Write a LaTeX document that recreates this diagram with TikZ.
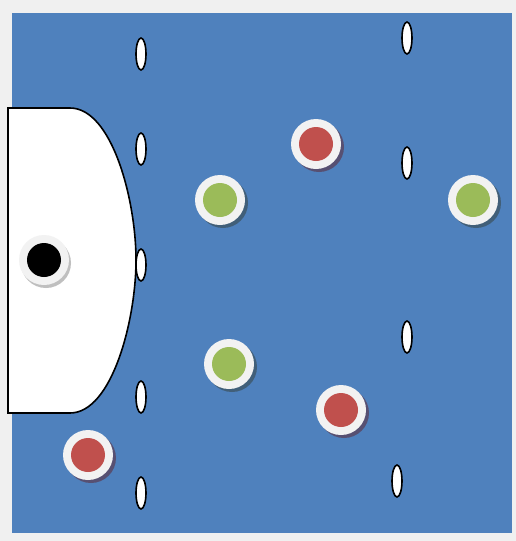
\documentclass[tikz,border=0pt]{standalone}
\usetikzlibrary{shapes.geometric}
\definecolor{fieldblue}{HTML}{4F81BD}
\definecolor{bggray}{HTML}{F0F0F0}
\definecolor{ringwhite}{HTML}{F2F2F2}
\definecolor{pgreen}{HTML}{9BBB59}
\definecolor{pred}{HTML}{C0504D}
\definecolor{shadowblue}{HTML}{3F5A6E}
\begin{document}
\begin{tikzpicture}[x=1pt,y=-1pt,
  cone/.style={ellipse,draw=black,line width=1.6pt,fill=white,minimum width=10pt,minimum height=32pt,inner sep=0pt},
  ring/.style={circle,fill=ringwhite,minimum size=50pt,inner sep=0pt},
  greenp/.style={circle,fill=pgreen,minimum size=34pt,inner sep=0pt},
  redp/.style={circle,fill=pred,minimum size=34pt,inner sep=0pt}]
\useasboundingbox (0,0) rectangle (516,541);
\fill[bggray] (0,0) rectangle (516,541);
\fill[fieldblue] (12,13) rectangle (512,533);
% goal area
\draw[line width=1.6pt,fill=white] (8,108) -- (70,108) .. controls (112,108) and (136,200) .. (136,260) .. controls (136,320) and (112,413) .. (70,413) -- (8,413) -- cycle;
% cones
\foreach \n/\x/\y in {c1/141/54,c2/141/149,c3/141/265,c4/141/397,c5/141/493,c6/407/38,c7/407/163,c8/407/337,c9/397/481}{
  \node[cone] (\n) at (\x,\y) {};
}
% ball
\fill[gray!50] (46,263) circle (25);
\node[circle,fill=ringwhite,minimum size=50pt,inner sep=0pt] (ballring) at (44,260) {};
\node[circle,fill=black,minimum size=34pt,inner sep=0pt] (ball) at (44,260) {};
% green players
\foreach \n/\x/\y in {g1/220/200,g2/473/200,g3/229/364}{
  \fill[shadowblue,opacity=0.85] (\x+3,\y+3) circle (25);
  \node[ring] (\n r) at (\x,\y) {};
  \node[greenp] (\n) at (\x,\y) {};
}
% red players
\foreach \n/\x/\y in {r1/316/144,r2/341/410,r3/88/455}{
  \fill[shadowblue!80!purple,opacity=0.85] (\x+3,\y+3) circle (25);
  \node[ring] (\n r) at (\x,\y) {};
  \node[redp] (\n) at (\x,\y) {};
}
\end{tikzpicture}
\end{document}
